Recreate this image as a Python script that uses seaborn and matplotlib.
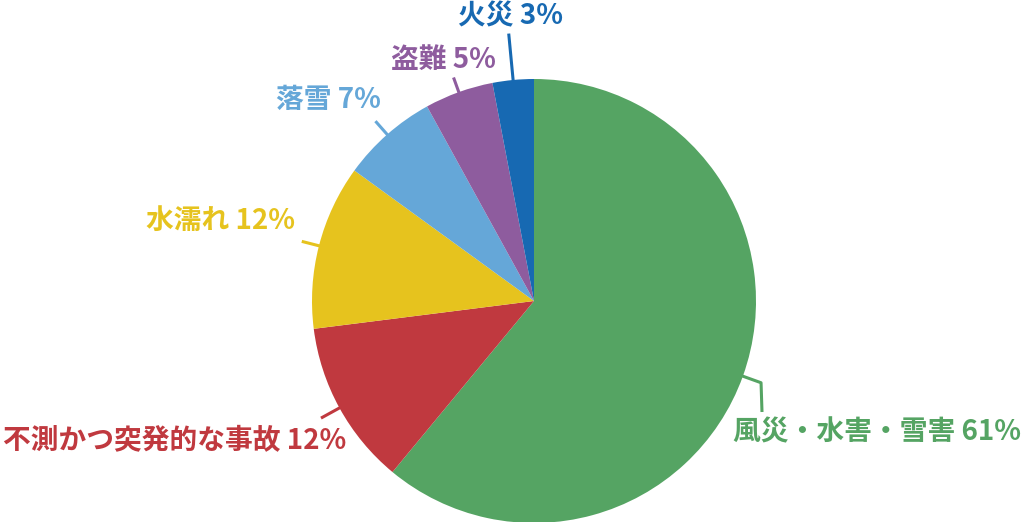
import numpy as np
import matplotlib
matplotlib.use("Agg")
import matplotlib.pyplot as plt
import seaborn as sns

labels = ["風災・水害・雪害", "不測かつ突発的な事故", "水濡れ", "落雪", "盗難", "火災"]
shares = [61, 12, 12, 7, 5, 3]
colors = ["#55A463", "#C0393F", "#E6C31E", "#65A7D8", "#8E5C9E", "#1769B2"]

sns.set_theme(style="white")
plt.rcParams["font.family"] = ["Noto Sans CJK JP", "DejaVu Sans"]

W, H = 1024, 522
CX, CY, R = 534, 301, 222


def to_data(px, py):
    return (px - CX) / R, (CY - py) / R


# label centres in pixels and outer radius of each leader line
label_pos = [(877, 432), (175, 441), (221, 221), (328, 100), (443, 60), (510, 16)]
leader_r = [1.087, 1.095, 1.08, 1.08, 1.07, 1.21]

fig = plt.figure(figsize=(W / 100, H / 100), dpi=100)
ax = fig.add_axes([0, 0, 1, 1])
ax.pie(shares, colors=colors, startangle=90, counterclock=False,
       radius=1, center=(0, 0), wedgeprops=dict(linewidth=0))
ax.set_xlim(-CX / R, (W - CX) / R)
ax.set_ylim((CY - H) / R, CY / R)
ax.set_aspect("auto")
ax.axis("off")

start = 90.0
for lab, val, col, pos, lr in zip(labels, shares, colors, label_pos, leader_r):
    span = val / sum(shares) * 360
    mid = np.deg2rad(start - span / 2)
    start -= span
    x0, y0 = np.cos(mid) * 0.99, np.sin(mid) * 0.99
    x1, y1 = np.cos(mid) * lr, np.sin(mid) * lr
    xs, ys = [x0, x1], [y0, y1]
    if val == 61:
        ex, ey = to_data(762, 412)
        xs.append(ex)
        ys.append(ey)
    ax.plot(xs, ys, color=col, lw=2.2, solid_capstyle="butt")
    tx, ty = to_data(*pos)
    ax.text(tx, ty, f"{lab} {val}%", color=col, fontsize=20, fontweight="bold",
            ha="center", va="center")

fig.savefig("out.png", dpi=100)
